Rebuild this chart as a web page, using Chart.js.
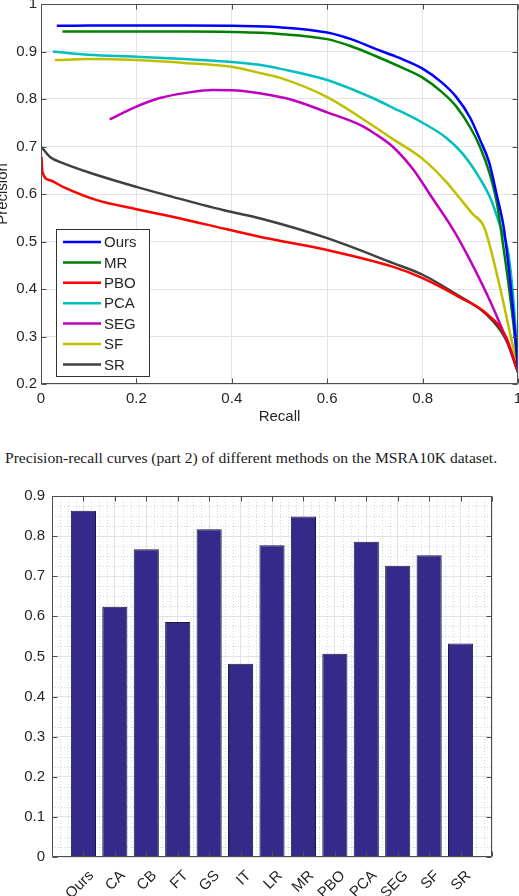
<!DOCTYPE html>
<html>
<head>
<meta charset="utf-8">
<script src="https://cdn.jsdelivr.net/npm/chart.js@4.4.1/dist/chart.umd.min.js"></script>
<style>
  html, body { margin: 0; padding: 0; background: #fff; }
  body { width: 519px; height: 896px; position: relative; overflow: hidden; }
  #pr { position: absolute; left: 0; top: 0; }
  #bars { position: absolute; left: 0; top: 470px; }
  .caption {
    position: absolute; left: 5px; top: 449px;
    font: 15.6px "Liberation Serif", "Times New Roman", serif;
    line-height: 18px; color: #1a1a1a; white-space: nowrap;
  }
</style>
</head>
<body>
<canvas id="pr" width="519" height="430"></canvas>
<div class="caption">Precision-recall curves (part 2) of different methods on the MSRA10K dataset.</div>
<canvas id="bars" width="519" height="426"></canvas>
<script>
// PR curves
const methods = ['Ours', 'MR', 'PBO', 'PCA', 'SEG', 'SF', 'SR'];

const recallOurs = [0.033, 0.1, 0.2, 0.3, 0.4, 0.5, 0.6, 0.65, 0.7, 0.75, 0.8, 0.84, 0.87, 0.9, 0.92, 0.94, 0.955, 0.97, 0.98, 0.99, 1.0];
const precOurs   = [0.954, 0.955, 0.955, 0.955, 0.954, 0.951, 0.940, 0.926, 0.906, 0.887, 0.864, 0.835, 0.805, 0.760, 0.715, 0.665, 0.600, 0.530, 0.450, 0.350, 0.235];

const recallMR = [0.045, 0.1, 0.2, 0.3, 0.4, 0.5, 0.6, 0.65, 0.7, 0.75, 0.8, 0.84, 0.87, 0.9, 0.92, 0.94, 0.955, 0.965, 0.977, 0.99, 1.0];
const precMR   = [0.942, 0.942, 0.942, 0.942, 0.941, 0.937, 0.926, 0.911, 0.891, 0.869, 0.845, 0.815, 0.785, 0.740, 0.700, 0.645, 0.585, 0.520, 0.434, 0.330, 0.235];

const recallPBO = [0.001, 0.003, 0.019, 0.046, 0.117, 0.2, 0.276, 0.35, 0.458, 0.6, 0.737, 0.8, 0.877, 0.933, 0.975, 1.0];
const precPBO   = [0.678, 0.646, 0.629, 0.615, 0.587, 0.568, 0.552, 0.535, 0.510, 0.482, 0.447, 0.423, 0.383, 0.349, 0.299, 0.225];

const recallPCA = [0.025, 0.1, 0.2, 0.3, 0.4, 0.458, 0.5, 0.6, 0.7, 0.737, 0.8, 0.85, 0.883, 0.918, 0.944, 0.96, 0.981, 0.994, 1.0];
const precPCA   = [0.900, 0.893, 0.889, 0.884, 0.878, 0.872, 0.864, 0.840, 0.800, 0.782, 0.750, 0.718, 0.686, 0.636, 0.587, 0.540, 0.467, 0.330, 0.225];

const recallSEG = [0.144, 0.193, 0.249, 0.305, 0.36, 0.41, 0.458, 0.527, 0.6, 0.67, 0.7, 0.737, 0.78, 0.82, 0.856, 0.883, 0.939, 0.981, 1.0];
const precSEG   = [0.757, 0.781, 0.802, 0.813, 0.819, 0.818, 0.812, 0.798, 0.772, 0.745, 0.727, 0.700, 0.652, 0.592, 0.538, 0.492, 0.380, 0.280, 0.225];

const recallSF = [0.029, 0.1, 0.2, 0.3, 0.4, 0.458, 0.5, 0.6, 0.7, 0.737, 0.8, 0.85, 0.877, 0.905, 0.929, 0.96, 0.987, 1.0];
const precSF   = [0.882, 0.884, 0.882, 0.876, 0.868, 0.855, 0.845, 0.804, 0.741, 0.716, 0.674, 0.625, 0.592, 0.558, 0.530, 0.413, 0.290, 0.235];

const recallSR = [0.001, 0.019, 0.046, 0.117, 0.2, 0.276, 0.395, 0.458, 0.6, 0.737, 0.8, 0.877, 0.933, 0.975, 1.0];
const precSR   = [0.699, 0.678, 0.665, 0.640, 0.615, 0.594, 0.563, 0.549, 0.507, 0.455, 0.430, 0.385, 0.347, 0.293, 0.225];

// F-measure bars
const barLabels = ['Ours', 'CA', 'CB', 'FT', 'GS', 'IT', 'LR', 'MR', 'PBO', 'PCA', 'SEG', 'SF', 'SR'];
const barValues = [0.863, 0.624, 0.767, 0.586, 0.817, 0.482, 0.777, 0.849, 0.507, 0.786, 0.726, 0.752, 0.532];

const lineColors = ['#0000ff', '#008000', '#ff0000', '#00bfbf', '#bf00bf', '#bfbf00', '#404040'];
const series = [
  [recallOurs, precOurs], [recallMR, precMR], [recallPBO, precPBO], [recallPCA, precPCA],
  [recallSEG, precSEG], [recallSF, precSF], [recallSR, precSR]
];

Chart.defaults.font.family = '"Liberation Sans", Arial, Helvetica, sans-serif';
Chart.defaults.font.size = 15;
Chart.defaults.color = '#262626';

function pts(xs, ys) {
  return xs.map((x, i) => ({ x: x, y: ys[i] }));
}

function fmt(v) {
  if (Math.abs(v) < 1e-9) return '0';
  if (Math.abs(v - 1) < 1e-9) return '1';
  return v.toFixed(1);
}

// box round the plot with short inward ticks, like matlab
const frame = {
  id: 'frame',
  afterDatasetsDraw(chart) {
    const { ctx, chartArea: a, scales } = chart;
    const L = Math.round(a.left) + 0.5, R = Math.round(a.right) - 0.5;
    const T = Math.round(a.top) + 0.5, B = Math.round(a.bottom) - 0.5;
    ctx.save();
    ctx.strokeStyle = '#4d4d4d';
    ctx.lineWidth = 1;
    ctx.beginPath();
    ctx.rect(L, T, R - L, B - T);
    scales.x.ticks.forEach(t => {
      const px = Math.round(scales.x.getPixelForValue(t.value)) + 0.5;
      ctx.moveTo(px, T); ctx.lineTo(px, T + 5);
      ctx.moveTo(px, B); ctx.lineTo(px, B - 5);
    });
    scales.y.ticks.forEach(t => {
      const py = Math.round(scales.y.getPixelForValue(t.value)) + 0.5;
      ctx.moveTo(L, py); ctx.lineTo(L + 5, py);
      ctx.moveTo(R, py); ctx.lineTo(R - 5, py);
    });
    ctx.stroke();
    ctx.restore();
  }
};

const boxLegend = {
  id: 'boxLegend',
  afterDraw(chart) {
    const ctx = chart.ctx;
    const x0 = 56, y0 = 229, w = 93, h = 147;
    ctx.save();
    ctx.fillStyle = '#fff';
    ctx.fillRect(x0, y0, w, h);
    ctx.strokeStyle = '#333';
    ctx.lineWidth = 1;
    ctx.strokeRect(x0 + 0.5, y0 + 0.5, w, h);
    ctx.font = '15px "Liberation Sans", Arial, sans-serif';
    ctx.textBaseline = 'middle';
    chart.data.datasets.forEach((ds, i) => {
      const yy = y0 + 13 + i * 20.4;
      ctx.strokeStyle = ds.borderColor;
      ctx.lineWidth = 2.5;
      ctx.beginPath();
      ctx.moveTo(x0 + 7, yy);
      ctx.lineTo(x0 + 45, yy);
      ctx.stroke();
      ctx.fillStyle = '#262626';
      ctx.fillText(ds.label, x0 + 48, yy + 1);
    });
    ctx.restore();
  }
};

const minorGrid = {
  id: 'minorGrid',
  beforeDatasetsDraw(chart) {
    const { ctx, chartArea: a, scales: { x, y } } = chart;
    ctx.save();
    ctx.strokeStyle = '#d6d6d6';
    ctx.lineWidth = 1;
    ctx.setLineDash([1, 2]);
    ctx.beginPath();
    for (let k = 1; k < 36; k++) {
      if (k % 4 === 0) continue;
      const py = Math.round(y.getPixelForValue(k * 0.025)) + 0.5;
      ctx.moveTo(a.left, py); ctx.lineTo(a.right, py);
    }
    for (let k = 1; k < 56; k++) {
      if (k % 4 === 0) continue;
      const px = Math.round(x.getPixelForValue(k * 0.25)) + 0.5;
      ctx.moveTo(px, a.top); ctx.lineTo(px, a.bottom);
    }
    ctx.stroke();
    ctx.restore();
  }
};

new Chart(document.getElementById('pr'), {
  type: 'line',
  data: {
    datasets: series.map((s, i) => ({
      label: methods[i],
      data: pts(s[0], s[1]),
      borderColor: lineColors[i],
      backgroundColor: lineColors[i],
      borderWidth: 2.5,
      pointRadius: 0,
      fill: false,
      cubicInterpolationMode: 'monotone'
    }))
  },
  options: {
    responsive: false,
    animation: false,
    layout: { padding: { top: 4, right: 1, left: 0, bottom: 0 } },
    plugins: { legend: { display: false }, tooltip: { enabled: false } },
    scales: {
      x: {
        type: 'linear', min: 0, max: 1,
        ticks: { stepSize: 0.2, padding: 6, callback: v => fmt(v) },
        grid: { color: '#e3e3e3', drawTicks: false },
        border: { display: false },
        title: { display: true, text: 'Recall', font: { size: 15 }, padding: { top: 4, bottom: 4 } },
        afterFit(s) { s.height = 46; s.paddingLeft = 0; s.paddingRight = 0; }
      },
      y: {
        min: 0.2, max: 1,
        ticks: { stepSize: 0.1, padding: 4, callback: v => fmt(v) },
        grid: { color: '#e3e3e3', drawTicks: false },
        border: { display: false },
        title: { display: true, text: 'Precision', font: { size: 15, lineHeight: 0.4 }, padding: 0 },
        afterFit(s) { s.width = 41; s.paddingTop = 0; s.paddingBottom = 0; }
      }
    }
  },
  plugins: [frame, boxLegend]
});

new Chart(document.getElementById('bars'), {
  type: 'bar',
  data: {
    datasets: [{
      data: barValues.map((v, i) => ({ x: i + 1, y: v })),
      backgroundColor: '#35298a',
      borderColor: '#1c1a3a',
      borderWidth: 1,
      barPercentage: 0.8,
      categoryPercentage: 1.0
    }]
  },
  options: {
    responsive: false,
    animation: false,
    layout: { padding: { top: 26, right: 27, left: 0, bottom: 0 } },
    plugins: { legend: { display: false }, tooltip: { enabled: false } },
    scales: {
      x: {
        type: 'linear', min: 0, max: 14, offset: false,
        ticks: {
          stepSize: 1, autoSkip: false, minRotation: 45, maxRotation: 45,
          padding: 10, labelOffset: 8,
          callback: v => barLabels[Math.round(v) - 1] || ''
        },
        grid: { color: '#e3e3e3', drawTicks: false, offset: false },
        border: { display: false },
        afterFit(s) { s.height = 39; s.paddingLeft = 0; s.paddingRight = 0; }
      },
      y: {
        min: 0, max: 0.9,
        ticks: { stepSize: 0.1, padding: 7, callback: v => fmt(v) },
        grid: { color: '#e3e3e3', drawTicks: false },
        border: { display: false },
        afterFit(s) { s.width = 52; s.paddingTop = 0; s.paddingBottom = 0; }
      }
    }
  },
  plugins: [minorGrid, frame]
});
</script>
</body>
</html>
